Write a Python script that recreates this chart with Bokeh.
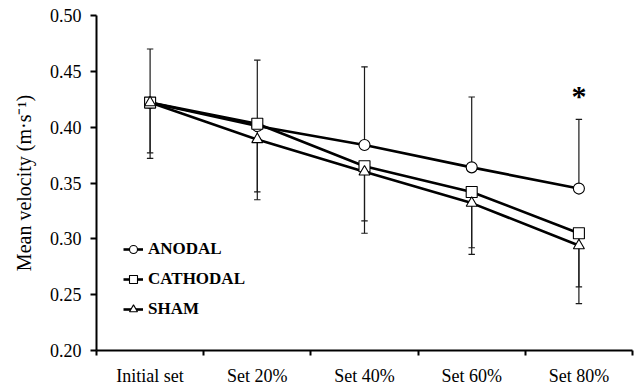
from bokeh.plotting import figure
from bokeh.models import (Range1d, FixedTicker, NumeralTickFormatter, Legend, LegendItem)
from bokeh.core.properties import value
from bokeh.embed import file_html
from bokeh.resources import INLINE

categories = ["Initial set", "Set 20%", "Set 40%", "Set 60%", "Set 80%"]
anodal = [0.422, 0.401, 0.384, 0.364, 0.345]
cathodal = [0.422, 0.403, 0.365, 0.342, 0.305]
sham = [0.422, 0.389, 0.360, 0.332, 0.294]
anodal_sd = [0.048, 0.059, 0.070, 0.063, 0.062]
cathodal_sd = [0.045, 0.061, 0.049, 0.050, 0.048]
sham_sd = [0.050, 0.054, 0.055, 0.046, 0.052]
y_ticks = [0.20, 0.25, 0.30, 0.35, 0.40, 0.45, 0.50]
star_index = 4
star_value = 0.428

FONT = "Liberation Serif"
xs = [i + 0.5 for i in range(len(categories))]

p = figure(width=636, height=388, output_backend="svg", toolbar_location=None,
           x_range=Range1d(0, len(categories)), y_range=Range1d(0.20, 0.50),
           min_border_left=96, min_border_right=4, min_border_top=15, min_border_bottom=34)
p.outline_line_color = None
p.xgrid.visible = False
p.ygrid.visible = False
p.background_fill_color = "white"

# error bars
cap = 0.03
for vals, sds, up in [(anodal, anodal_sd, True), (cathodal, cathodal_sd, False), (sham, sham_sd, False)]:
    ends = [v + s if up else v - s for v, s in zip(vals, sds)]
    p.segment(x0=xs, y0=vals, x1=xs, y1=ends, line_color="#1a1a1a", line_width=1.2)
    p.segment(x0=[x - cap for x in xs], y0=ends, x1=[x + cap for x in xs], y1=ends,
              line_color="#1a1a1a", line_width=1.2)

renders = []
for vals in [anodal, cathodal, sham]:
    ln = p.line(xs, vals, line_color="black", line_width=2.6)
    renders.append(ln)
scs = []
for vals, marker in [(anodal, "circle"), (cathodal, "square"), (sham, "triangle")]:
    sc = p.scatter(xs, vals, marker=marker, size=11, fill_color="white",
                   line_color="black", line_width=1.1)
    scs.append(sc)

p.text(x=[xs[star_index]], y=[star_value], text=["*"], text_font=value(FONT),
       text_font_size="30px", text_font_style="bold", text_align="center",
       text_baseline="middle", text_color="black")

legend = Legend(items=[
    LegendItem(label="ANODAL", renderers=[renders[0], scs[0]]),
    LegendItem(label="CATHODAL", renderers=[renders[1], scs[1]]),
    LegendItem(label="SHAM", renderers=[renders[2], scs[2]]),
], location=(27, 31), glyph_width=20, glyph_height=20, label_height=20, spacing=10,
    label_standoff=5, padding=0, margin=0, background_fill_alpha=0,
    border_line_color=None, label_text_font=FONT, label_text_font_style="bold",
    label_text_font_size="17px", label_text_color="black")
p.add_layout(legend, "center")

# y axis
ya = p.yaxis[0]
ya.ticker = FixedTicker(ticks=y_ticks)
ya.formatter = NumeralTickFormatter(format="0.00")
ya.axis_label = "Mean velocity (m·s⁻¹)"
ya.axis_label_text_font = FONT
ya.axis_label_text_font_style = "normal"
ya.axis_label_text_font_size = "20px"
ya.axis_label_text_color = "black"
ya.axis_label_standoff = 12
ya.major_label_text_font = FONT
ya.major_label_text_font_size = "18px"
ya.major_label_text_color = "black"
ya.major_label_standoff = 9
ya.major_tick_in = 0
ya.major_tick_out = 6
ya.minor_tick_out = 0
ya.minor_tick_in = 0
ya.axis_line_width = 2
ya.major_tick_line_width = 2
ya.axis_line_color = "black"
ya.major_tick_line_color = "black"

# x axis
xa = p.xaxis[0]
xa.ticker = FixedTicker(ticks=xs, minor_ticks=list(range(len(categories) + 1)))
xa.major_label_overrides = {x: c for x, c in zip(xs, categories)}
xa.major_label_text_font = FONT
xa.major_label_text_font_size = "18px"
xa.major_label_text_color = "black"
xa.major_label_standoff = 10
xa.major_tick_in = 0
xa.major_tick_out = 0
xa.minor_tick_in = 0
xa.minor_tick_out = 5
xa.minor_tick_line_width = 2
xa.minor_tick_line_color = "black"
xa.axis_line_width = 2
xa.axis_line_color = "black"

open("out.html", "w").write(file_html(p, INLINE))
